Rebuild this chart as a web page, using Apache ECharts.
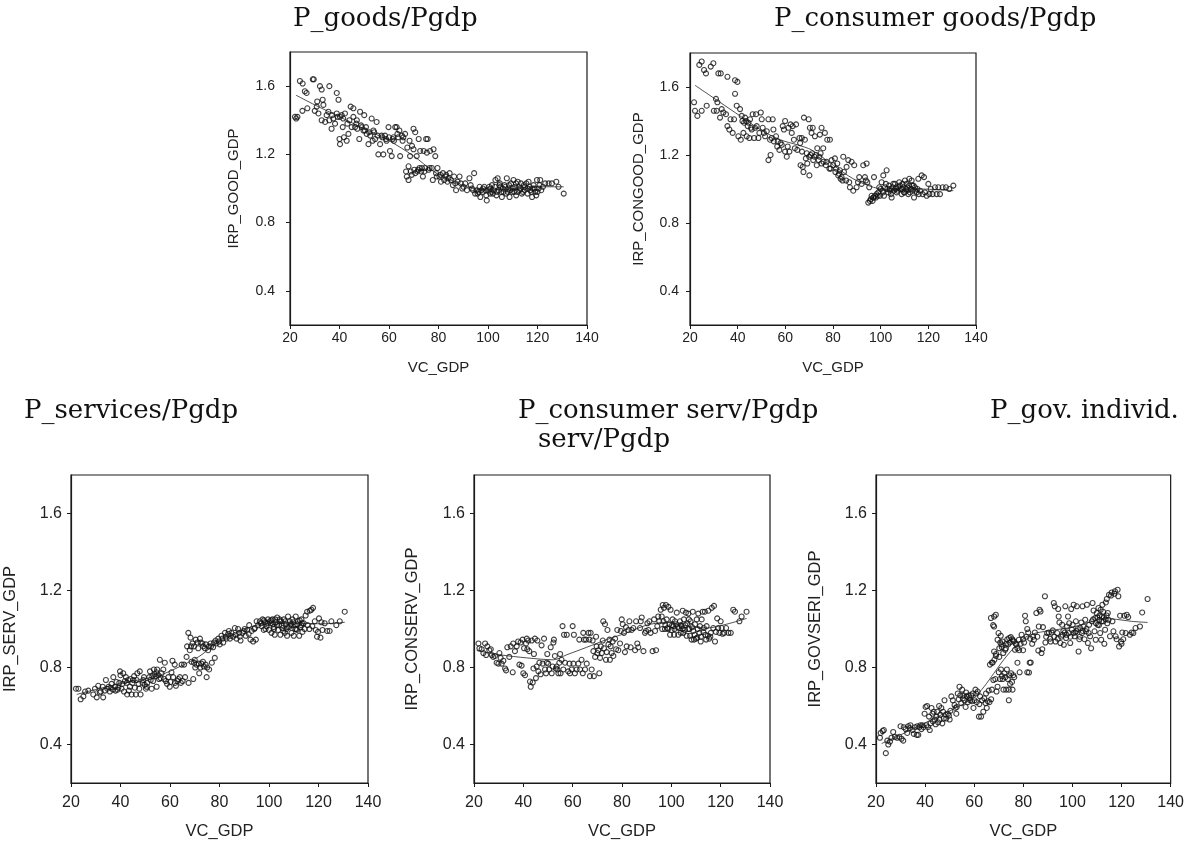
<!doctype html>
<html lang="en">
<head>
<meta charset="utf-8">
<title>Relative prices vs VC_GDP</title>
<script src="https://cdn.jsdelivr.net/npm/echarts@6/dist/echarts.min.js"></script>
<style>
  html, body { margin: 0; padding: 0; background: #fff; }
  #main { width: 1187px; height: 841px; }
</style>
</head>
<body>
<div id="main"></div>
<script>
// panel titles and axis names
var panelTitles = ['P_goods/Pgdp', 'P_consumer goods/Pgdp', 'P_services/Pgdp', 'P_consumer serv/Pgdp', 'P_gov. individ.'];
var yNames = ['IRP_GOOD_GDP', 'IRP_CONGOOD_GDP', 'IRP_SERV_GDP', 'IRP_CONSERV_GDP', 'IRP_GOVSERI_GDP'];
var xName = 'VC_GDP';
var yTicks = [0.4, 0.8, 1.2, 1.6];

// [VC_GDP, ratio]
var goodsPts = [
  [22,1.42],[22.5,1.41],[23,1.42],[24,1.63],[25.1,1.615],[26,1.57],[26.7,1.56],[25,1.455],[27,1.47],
  [29.2,1.64],[29.6,1.64],[30,1.455],[30.8,1.48],[31,1.51],[31.5,1.44],[32.1,1.6],[32.8,1.58],[33.2,1.52],
  [33.5,1.49],[32.8,1.40],[34.2,1.39],[34.8,1.43],[35.5,1.45],[35.9,1.6],[35.9,1.40],[36.8,1.35],[37.5,1.41],
  [38.2,1.38],[38.9,1.44],[38.9,1.56],[39.6,1.52],[40.2,1.42],[40,1.29],[40.2,1.26],[40.9,1.43],[41.3,1.36],
  [41.8,1.30],[42.2,1.44],[42.9,1.28],[43.6,1.32],[44,1.40],[44.5,1.48],[44.9,1.36],[45.6,1.47],[45.6,1.42],
  [46.3,1.36],[47,1.40],[47.2,1.35],[48,1.29],[48.3,1.45],[49,1.36],[49.7,1.34],[50,1.43],[50.7,1.36],
  [51,1.32],[51.7,1.26],[52.4,1.31],[53,1.41],[53.4,1.28],[53.7,1.34],[54.4,1.29],[55,1.39],[55.7,1.20],
  [56.4,1.26],[57,1.31],[57.7,1.20],[58.4,1.31],[59,1.28],[59.8,1.36],[60.4,1.22],[61.1,1.19],[61.5,1.29],
  [62,1.28],[62.5,1.36],[63.1,1.36],[63.7,1.30],[64.2,1.34],[64.5,1.19],[65.2,1.31],[65.8,1.30],[66.5,1.32],
  [66.9,1.10],[67.2,1.07],[67.9,1.13],[67.9,1.05],[68.3,1.28],[68.5,1.19],[68.8,1.10],[69.3,1.25],[69.9,1.35],
  [69.9,1.23],[70.6,1.33],[70.6,1.09],[71.2,1.19],[71.5,1.10],[72,1.29],[72.3,1.12],[72.6,1.22],[73.3,1.12],
  [73.7,1.07],[74,1.22],[74.6,1.12],[75,1.29],[75.3,1.21],[75.6,1.29],[76,1.11],[76.6,1.22],[77.3,1.12],
  [77.7,1.05],[78,1.23],[78.7,1.19],[79.3,1.07],[79.6,1.12],[80.4,1.07],[81,1.04],[81.8,1.09],[82.3,1.05],
  [83.1,1.08],[83.6,1.04],[84.5,1.09],[85,1.05],[85.8,1.02],[86.3,1.07],[87.1,0.99],[87.7,1.04],[88.5,1.07],
  [89,1.03],[90.1,1.01],[90.8,1.03],[91.5,0.99],[92.5,1.06],[93.5,1.00],[94.4,1.09],[94.8,0.97],[95.5,0.99],
  [96.6,1.01],[96.9,0.95],[97.9,0.98],[98.5,1.01],[99.3,0.96],[99.5,0.93],[100.2,0.99],[100.9,0.97],[101.6,1.02],
  [102.3,0.99],[103,1.05],[103.4,0.96],[103.9,1.06],[104.3,0.99],[105,1.01],[105.6,0.95],[106.3,0.98],[107,1.01],
  [107.6,1.06],[108.3,1.00],[108.7,0.95],[109.3,1.03],[109.7,0.98],[110.3,1.05],[111,1.01],[111.4,0.96],[112,1.04],
  [112.8,0.99],[113.3,1.03],[114.1,0.98],[115,1.01],[116,0.97],[116.4,1.04],[117.1,0.99],[117.8,0.95],[118.4,1.02],
  [119.1,0.98],[119.8,1.05],[120.4,1.00],[121.1,1.05],[122.2,1.01],[123.1,1.03],[124.5,1.03],[125.8,1.03],[127.6,1.04],
  [128.5,1.01],[130.6,0.97],[98,1.00],[101,1.00],[102,0.97],[104.8,1.03],[106,1.00],[108,0.98],[110,1.00],
  [111.8,0.98],[113,1.00],[114.5,1.02],[116,1.00],[118,1.00],[120,0.98],[121.5,0.99],[95.8,0.97],[97.3,0.99],
  [99,0.99],[100.5,1.01],[101.3,0.98],[102.8,1.01],[103.7,0.98],[104.6,1.02],[105.3,0.98],[106.7,1.02],[107.3,0.97],
  [108.5,1.02],[109,0.99],[110.6,0.98],[111.3,1.03],[112.4,1.01],[113.7,0.97],[114.8,0.99],[115.5,1.03],[116.8,1.01],
  [117.5,0.98],[118.8,1.00],[119.5,0.96],[120.8,1.02],[93,1.02],[94,0.99],[96.2,0.98],[89.6,1.00],[86.8,1.03],
  [84,1.06],[82.8,1.07],[80.8,1.08],[79,1.09],[76.4,1.12],[74.3,1.10],[73,1.10],[71.8,1.11],[70.2,1.11],[69.2,1.08],
  [46.8,1.38],[48.7,1.37],[50.3,1.34],[52,1.33],[54,1.33],[55.4,1.31],[57.3,1.30],[58.8,1.29],[60,1.30],[43.2,1.38],
  [41.5,1.41],[39.2,1.42],[37,1.43],[61.8,1.30],[63.4,1.32],[65.5,1.28],[67.4,1.24]
];
var goodsFit = [[22.4,1.547],[30,1.49],[40,1.42],[50,1.35],[60,1.28],[70,1.19],[78,1.10],[85,1.05],[91.5,1.01],[100.9,0.99],[110,1.00],[118.4,1.01],[130.6,1.01]];

var conGoodsPts = [
  [21.7,1.51],[22.1,1.46],[23.1,1.43],[23.9,1.73],[24.9,1.75],[24.9,1.46],[25.9,1.70],[26.7,1.68],[27,1.49],
  [28.7,1.72],[29.8,1.74],[30,1.46],[30.9,1.53],[31.2,1.46],[31.5,1.51],[31.9,1.68],[32.9,1.68],[32.6,1.42],
  [33.3,1.47],[34,1.45],[35.1,1.44],[35.7,1.66],[35.7,1.37],[36.5,1.35],[37,1.41],[37.9,1.33],[38.5,1.41],
  [38.9,1.64],[38.9,1.56],[39.6,1.49],[39.9,1.63],[40.3,1.31],[41,1.47],[41.3,1.29],[41.7,1.43],[42.4,1.33],
  [42.7,1.39],[43.1,1.42],[43.8,1.31],[44.2,1.37],[44.9,1.30],[45.2,1.41],[45.9,1.35],[46.3,1.44],[46.9,1.30],
  [47.7,1.44],[48,1.37],[48.7,1.30],[49.1,1.33],[49.7,1.45],[50.1,1.41],[50.5,1.36],[51.5,1.31],[52.2,1.34],
  [52.9,1.41],[52.9,1.17],[53.6,1.29],[53.8,1.20],[54.7,1.41],[55,1.35],[55.2,1.28],[56.1,1.31],[56.6,1.25],
  [57.5,1.23],[58.5,1.26],[58.9,1.37],[59.4,1.35],[59.9,1.40],[59.9,1.22],[60.6,1.19],[61.3,1.36],[61.7,1.22],
  [62.2,1.38],[62.7,1.33],[63.1,1.37],[63.6,1.29],[64.5,1.38],[65,1.23],[65.9,1.30],[66.2,1.27],[66.9,1.30],
  [66.4,1.14],[67.3,1.13],[67.6,1.10],[67.8,1.42],[68.2,1.29],[69,1.21],[69.2,1.15],[69.8,1.41],[70.1,1.08],
  [70.3,1.36],[70.6,1.20],[71,1.33],[71.5,1.36],[71.7,1.17],[72.4,1.31],[72.9,1.20],[73.2,1.14],[73.4,1.24],
  [74.3,1.19],[74.5,1.32],[74.8,1.21],[75.2,1.36],[75.2,1.15],[75.9,1.24],[76.6,1.33],[77.3,1.16],[77.6,1.29],
  [78.5,1.12],[78.7,1.29],[79.4,1.17],[80.1,1.14],[80.8,1.18],[81.3,1.12],[81.8,1.15],[82.2,1.08],[82.9,1.11],
  [83.6,1.07],[84.3,1.19],[84.6,1.10],[85.5,1.05],[85.7,1.13],[86.4,1.17],[87.1,1.01],[87.8,1.16],[88.5,0.99],
  [88.9,1.14],[89.9,1.01],[91,1.07],[92,1.03],[92.7,1.14],[93.4,1.07],[94.1,1.15],[94.4,1.04],[94.8,0.92],
  [95.2,1.01],[95.8,0.94],[96.2,0.96],[96.6,0.93],[97.2,1.07],[97.6,0.96],[98.3,0.97],[99,0.98],[99.4,1.01],
  [99.7,0.96],[100.4,1.04],[100.8,0.99],[101.1,1.08],[101.4,0.96],[101.8,1.01],[102.2,1.03],[102.5,1.11],[103.2,0.98],
  [103.9,1.00],[104.6,0.95],[105,1.01],[105.6,0.99],[106,1.03],[106.7,0.98],[107.4,1.01],[107.8,1.04],[108.4,1.00],
  [108.8,0.97],[109.2,1.03],[109.8,0.98],[110.2,1.05],[110.6,1.00],[111.2,1.01],[111.6,0.97],[112,1.06],[112.6,1.00],
  [113,1.05],[113.4,0.99],[114,0.95],[114.4,1.01],[115.1,0.98],[115.8,1.06],[116.5,0.99],[117.2,1.08],[117.6,0.97],
  [118.2,1.07],[118.6,0.98],[119.3,0.96],[120,1.03],[120.4,0.97],[121,1.00],[121.8,0.97],[122.8,1.01],[123.5,0.97],
  [124.2,1.01],[124.9,0.97],[126,1.01],[127.4,1.01],[128.8,1.00],[130.5,1.02],[97,0.95],[98.8,0.96],[104,0.99],
  [106.3,1.00],[109,1.00],[111,0.99],[113.8,1.02],[116,0.97],
  [102.8,1.00],[103.5,1.02],[104.3,0.97],[105.3,1.03],[106.5,1.01],[107,0.99],[108.1,1.02],[109.5,1.01],[110,0.98],
  [110.9,1.03],[111.9,1.02],[112.3,0.98],[113.2,1.02],[114.7,0.99],[115.4,1.00],[100,1.00],[101,0.98],[98,0.95],
  [96.9,0.95],[95.5,0.93],[93.8,1.05],[90.5,1.04],[86.8,1.04],[84,1.05],[83.2,1.06],[82.5,1.09],[81,1.10],[79,1.12],
  [77,1.14],[76,1.16],[74,1.17],[72.2,1.19],[71.2,1.21],[70,1.19],[68.6,1.18],[67,1.22],[64,1.24],[61,1.25],
  [58,1.27],[56.8,1.28],[54.3,1.30],[51,1.33],[47.3,1.36],[45.6,1.36],[44.5,1.39],[43.5,1.40],[42,1.40]
];
var conGoodsFit = [[22.1,1.61],[32.6,1.51],[41,1.43],[49.4,1.35],[57.8,1.29],[65,1.26],[71,1.23],[80.1,1.14],[88.5,1.06],[97,1.01],[105.3,0.99],[116.5,1.00],[130.5,0.99]];

var servPts = [
  [22,0.69],[23,0.69],[23.9,0.635],[25,0.65],[25.7,0.675],[27,0.68],[29,0.66],[29.7,0.69],[30.4,0.645],
  [31,0.705],[32,0.675],[32.8,0.70],[33,0.645],[34.1,0.735],[34.7,0.69],[35.7,0.675],[36.4,0.715],[37.1,0.75],
  [37.8,0.70],[38.4,0.725],[39.1,0.695],[39.8,0.78],[40,0.76],[40.4,0.69],[41.1,0.77],[41.4,0.675],[42.2,0.75],
  [42.7,0.66],[43.1,0.735],[43.8,0.70],[44.5,0.66],[45.2,0.735],[45.8,0.695],[46.2,0.66],[46.8,0.77],[47.6,0.69],
  [47.8,0.78],[48.1,0.66],[48.9,0.72],[49.5,0.75],[50.3,0.69],[50.8,0.72],[51.6,0.75],[51.9,0.78],[52.6,0.69],
  [53.2,0.73],[53.5,0.79],[54.3,0.755],[54.6,0.70],[54.8,0.79],[55.6,0.74],[55.9,0.84],[56.6,0.77],[57.3,0.79],
  [57.9,0.825],[58.3,0.73],[59.3,0.75],[59.9,0.70],[60.6,0.775],[61,0.835],[61.3,0.75],[61.9,0.815],[62.4,0.705],
  [63.3,0.74],[64,0.75],[64.7,0.815],[65.1,0.73],[65.7,0.815],[66.1,0.75],[66.7,0.855],[66.9,0.91],[67.4,0.98],
  [67.5,0.72],[68,0.89],[68.3,0.955],[68.7,0.83],[69.1,0.925],[69.4,0.74],[70,0.84],[70.4,0.945],[70.7,0.815],
  [71.4,0.90],[71.8,0.77],[72.1,0.95],[72.7,0.82],[73.1,0.925],[73.7,0.805],[74.1,0.90],[74.8,0.75],[75,0.80],
  [75.4,0.89],[75.8,0.79],[76.4,0.925],[76.9,0.825],[77.4,0.905],[78.1,0.85],[78.8,0.925],[79.5,0.95],[80.1,0.92],
  [80.8,0.965],[81.5,0.93],[82.2,0.98],[82.8,0.95],[83.5,0.975],[84.2,0.95],[84.8,0.98],[85.5,0.96],[86.2,1.005],
  [86.9,0.95],[87.5,1.00],[87.9,0.98],[88.5,0.94],[89.3,0.98],[90.2,1.00],[91.2,0.995],[92,1.02],[92.5,0.945],
  [93.6,0.935],[94.3,1.005],[94.7,0.945],[95,1.04],[95.6,1.02],[96.3,1.04],[97,1.015],[97.4,1.05],[97.9,0.995],
  [98.3,1.035],[99,1.015],[99.6,1.05],[100,0.995],[100.6,1.03],[101,0.98],[101.4,1.05],[101.9,1.01],[102.3,0.97],
  [102.7,1.035],[103.3,1.06],[103.7,0.995],[104.1,1.02],[104.6,0.97],[105,1.04],[105.4,1.005],[106,1.05],[106.4,0.98],
  [106.8,1.025],[107.3,0.965],[107.7,1.065],[108.1,1.01],[108.4,1.04],[109.1,0.98],[109.5,1.05],[110,0.965],[110.4,1.02],
  [110.8,1.065],[111.3,0.995],[111.7,1.04],[112.2,0.965],[112.7,1.01],[113.1,1.05],[113.5,0.985],[114,1.03],[114.8,1.07],
  [115.4,1.09],[116.5,1.095],[117.1,1.10],[117.8,1.11],[117.5,1.015],[118.5,1.04],[118.9,0.995],[119.4,0.96],[119.8,0.985],
  [120.2,1.055],[120.8,0.955],[121.2,1.035],[121.6,0.995],[122.5,1.03],[123.5,0.99],[124.5,0.99],[125.2,1.04],[127.2,1.02],
  [128.6,1.04],[130.6,1.09],[98.6,1.00],[100.3,1.04],[102,1.00],[104.5,1.04],[107,1.00],[109,1.02],[111,1.00],[113,1.02],
  [96.8,1.03],[98,1.045],[99.3,1.03],[100.9,1.045],[101.6,1.025],[102.5,1.05],[103.1,1.02],[104.3,1.05],[105.2,1.02],
  [105.8,0.99],[106.6,1.04],[107.5,1.01],[108.7,1.025],[109.8,1.035],[110.6,1.00],[111.5,1.025],[112.4,1.045],[113.3,1.03],
  [114.4,1.00],[115.6,1.02],[116.3,1.00],[94,1.00],[93,0.99],[91.8,0.975],[90.6,0.965],[89.8,0.99],[88.2,0.96],
  [86.5,0.97],[84.5,0.965],[83.8,0.99],[82.5,0.96],[81.2,0.95],[79.8,0.935],[78.4,0.94],[77.8,0.93],[76.6,0.91],
  [75.7,0.91],[74.5,0.92],[73.4,0.91],[72.4,0.93],[71.1,0.93],[69.7,0.91],[68.5,0.91],[74.4,0.815],[73.3,0.83],
  [72.3,0.80],[71.6,0.82],[70.2,0.80],[69.7,0.825],[64.4,0.72],[63,0.73],[62,0.72],[60.2,0.725],[58.8,0.715],
  [57.6,0.74],[56.2,0.745],[55.3,0.76],[54.5,0.775],[53.8,0.765],[52.9,0.755],[52.2,0.735],[50.6,0.70],[49.8,0.71],
  [49.2,0.735],[47.3,0.715],[46.5,0.735],[45.5,0.755],[44.8,0.72],[44,0.74],[43.4,0.68],[42.5,0.72],[41.8,0.73],
  [40.8,0.715],[39.5,0.72],[38.8,0.685],[38,0.68],[36.9,0.685],[36,0.695],[35.2,0.70],[33.7,0.68],[31.6,0.67]
];
var servFit = [[22.3,0.66],[34.4,0.70],[47.2,0.735],[55.9,0.76],[64,0.805],[72.1,0.86],[80.1,0.94],[85.5,0.97],[93.6,1.015],[103,1.035],[112.4,1.03],[121.8,1.027],[130.6,1.035]];

var conServPts = [
  [21.8,0.925],[22.2,0.90],[23.1,0.895],[23.8,0.875],[24.5,0.925],[24.9,0.865],[25.4,0.91],[26.2,0.89],[26.8,0.895],
  [27.2,0.865],[27.8,0.855],[28.5,0.86],[29.2,0.825],[29.9,0.82],[30.3,0.875],[30.8,0.85],[31.2,0.82],[31.9,0.835],
  [32.6,0.795],[33,0.785],[33.5,0.905],[34.3,0.855],[34.9,0.91],[35.7,0.775],[35.9,0.925],[36.6,0.885],[37.3,0.91],
  [37.9,0.935],[38.4,0.815],[38.9,0.93],[39.3,0.81],[39.7,0.945],[40,0.77],[40.3,0.90],[40.7,0.76],[41.1,0.925],
  [41.4,0.95],[41.6,0.895],[42,0.94],[42.4,0.885],[42.7,0.727],[43,0.70],[43.4,0.94],[43.8,0.722],[44.1,0.795],
  [44.3,0.87],[44.7,0.95],[45.1,0.745],[45.4,0.805],[45.7,0.94],[46.1,0.78],[46.5,0.825],[47,0.765],[47.4,0.915],
  [47.8,0.82],[48.4,0.95],[48.8,0.79],[49.2,0.77],[49.5,0.825],[49.7,0.87],[50.1,0.82],[50.5,0.79],[51.1,0.905],
  [51.5,0.77],[51.9,0.805],[52.2,0.93],[52.4,0.945],[52.8,0.86],[53.2,0.795],[53.5,0.805],[53.8,0.79],[54.2,0.77],
  [54.6,0.825],[54.9,0.87],[55.1,0.77],[55.5,0.84],[55.9,1.015],[56.2,0.79],[56.5,0.97],[56.9,0.825],[57.6,0.97],
  [58.2,0.78],[58.7,0.82],[58.9,0.77],[59.6,0.79],[60,1.015],[60.3,0.82],[60.5,0.97],[60.9,0.77],[61.6,0.79],
  [62.3,0.82],[62.7,0.945],[63,0.79],[63.6,0.84],[64.1,0.77],[64.3,0.98],[64.6,0.945],[65,0.79],[65.4,0.945],
  [65.7,0.82],[66.4,0.98],[66.8,0.945],[67,0.755],[67.3,0.98],[67.7,0.79],[68.1,0.94],[68.4,0.885],[68.6,0.755],
  [69.1,0.855],[69.5,0.96],[69.7,0.91],[70,0.875],[70.4,0.89],[70.8,0.77],[71.1,0.85],[71.4,0.91],[71.8,0.875],
  [72.2,0.94],[72.4,1.04],[72.7,0.90],[73.1,1.025],[73.5,0.84],[73.8,0.88],[74.1,0.995],[74.5,0.92],[74.9,0.945],
  [75.1,0.84],[75.4,0.91],[75.8,0.875],[76.2,0.935],[76.5,0.86],[77.2,0.95],[77.6,0.895],[78.1,0.995],[78.5,0.89],
  [79.2,0.925],[79.5,0.99],[79.9,1.05],[80.3,1.025],[80.8,0.98],[81.2,0.88],[81.6,1.01],[81.9,0.91],[82.6,0.995],
  [83,1.04],[83.5,0.905],[83.9,0.995],[84.6,1.005],[85.3,0.89],[85.7,1.04],[86.2,0.925],[86.6,0.905],[87.3,1.005],
  [87.6,1.04],[88,1.06],[88.7,0.885],[89.3,0.98],[89.7,0.99],[90.3,1.03],[90.7,0.995],[91.1,1.04],[91.6,0.98],
  [92.4,0.885],[93,1.05],[93.4,0.99],[93.8,0.89],[94.3,1.015],[94.7,1.065],[95.1,1.04],[95.7,1.10],[96.1,1.065],
  [96.5,1.125],[96.8,1.04],[97,1.11],[97.4,1.00],[97.8,1.125],[98.1,1.05],[98.4,1.005],[98.8,1.115],[99.2,1.025],
  [99.5,0.97],[99.7,1.10],[100.1,0.995],[100.5,1.05],[100.8,1.015],[101.1,0.97],[101.5,1.04],[101.9,1.025],[102.2,1.085],
  [102.8,0.97],[103.2,1.005],[103.5,1.04],[103.8,0.98],[104.2,1.015],[104.6,1.095],[104.9,0.98],[105.1,1.05],[105.5,0.995],
  [105.9,1.085],[106.2,0.965],[106.5,1.03],[106.9,1.08],[107.3,1.00],[107.6,0.965],[107.8,1.04],[108.2,0.945],[108.7,1.09],
  [108.9,0.99],[109.2,0.945],[109.6,1.025],[110,0.95],[110.3,1.05],[110.5,0.955],[110.9,1.08],[111.4,0.98],[111.6,1.015],
  [111.9,0.935],[112.3,1.05],[112.7,1.09],[113,0.985],[113.2,1.005],[113.6,1.09],[114.1,0.945],[114.3,1.015],[115,1.095],
  [115.4,0.95],[116,0.98],[116.4,1.11],[117,1.005],[117.3,1.12],[117.7,0.935],[118.1,0.985],[118.6,1.055],[119,1.005],
  [119.5,0.98],[120,1.04],[120.4,1.005],[120.8,0.975],[121.4,0.98],[122.2,1.005],[123.1,0.98],[124.1,0.98],[125.1,1.10],
  [125.8,1.09],[127.6,1.04],[128.5,1.065],[130.5,1.09],
  [100.3,1.02],[101.3,1.00],[102.5,1.01],[103.9,1.02],[104.5,1.00],[105.7,1.02],[106.8,1.00],[107.1,1.05],[108.4,1.01],
  [109.4,0.97],[110.7,1.00],[112,0.96],[113.8,0.97],[114.8,0.965],[115.8,0.96],[98.7,1.00],[97.6,1.02],[96.3,1.00]
];
var conServFit = [[21.1,0.888],[30.5,0.866],[41.4,0.85],[52.2,0.84],[57.6,0.866],[65.7,0.905],[73.8,0.945],[81.9,0.98],[90,1.02],[98.1,1.035],[106.2,1.015],[114.3,1.005],[122.4,1.025],[130.5,1.055]];

var govPts = [
  [21.9,0.46],[21.6,0.435],[22.7,0.47],[23.2,0.475],[24,0.355],[24.6,0.42],[25,0.40],[25.7,0.415],[26.3,0.435],
  [27,0.465],[27.7,0.44],[28.6,0.435],[29.5,0.44],[30,0.495],[30.4,0.43],[31.1,0.42],[31.3,0.49],[32.1,0.48],
  [32.7,0.46],[33.1,0.495],[33.8,0.485],[34,0.50],[34.9,0.475],[35.4,0.455],[35.9,0.49],[36.6,0.45],[36.8,0.495],
  [37.2,0.45],[37.6,0.49],[38.1,0.50],[38.5,0.48],[38.9,0.50],[39.4,0.49],[39.8,0.56],[40.2,0.595],[40.5,0.50],
  [40.8,0.60],[41.2,0.49],[41.6,0.545],[41.9,0.475],[42.2,0.51],[42.6,0.59],[43,0.56],[43.2,0.52],[43.5,0.57],
  [43.9,0.53],[44.3,0.505],[44.6,0.545],[44.9,0.57],[45.3,0.515],[45.7,0.60],[45.9,0.53],[46.2,0.555],[46.6,0.59],
  [47,0.51],[47.3,0.57],[47.6,0.535],[47.9,0.63],[48.4,0.555],[48.6,0.535],[49.3,0.56],[49.7,0.55],[50,0.53],
  [50.3,0.575],[50.7,0.65],[51.3,0.63],[52,0.605],[52.4,0.59],[52.7,0.56],[52.9,0.595],[53.3,0.665],[53.7,0.635],
  [54,0.70],[54.3,0.655],[54.7,0.615],[55.1,0.685],[55.4,0.64],[55.6,0.655],[56,0.63],[56.5,0.595],[56.7,0.67],
  [57,0.65],[57.4,0.62],[57.8,0.655],[58.1,0.64],[58.4,0.63],[58.7,0.655],[59.1,0.625],[59.4,0.665],[59.7,0.59],
  [60.1,0.63],[60.5,0.685],[60.8,0.665],[61,0.62],[61.4,0.675],[61.9,0.545],[62.1,0.61],[62.4,0.65],[62.8,0.545],
  [63.2,0.63],[63.7,0.57],[64.1,0.64],[64.6,0.615],[64.8,0.665],[65.1,0.59],[65.5,0.625],[65.9,0.68],[66.2,0.62],
  [66.4,0.815],[66.9,0.635],[67.2,0.685],[67.5,0.825],[67.8,0.735],[68.2,0.84],[68.6,0.74],[68.9,0.87],[69.1,0.675],
  [69.5,0.70],[70,0.775],[70.2,0.855],[70.5,0.74],[70.9,0.79],[71.3,0.755],[71.6,0.74],[71.9,0.685],[72.3,0.77],
  [72.7,0.75],[73,0.685],[73.3,0.79],[73.7,0.74],[74.1,0.685],[74.3,0.76],[74.6,0.715],[75,0.77],[75.4,0.725],
  [75.6,0.685],[75.9,0.76],[76.3,0.75],[74.1,0.63],[77.6,0.825],[78.5,0.775],[81.6,0.775],[82.6,0.825],[79.9,0.89],
  [78.3,0.89],[66.8,1.057],[68.1,1.065],[68.8,1.074],[67.7,1.02],[68.1,1.013],[69.9,0.979],[70.8,0.965],[69.5,0.944],
  [71.5,0.935],[70.2,0.90],[68.1,0.883],[68.8,0.86],[67.2,0.826],[71.2,0.906],[71.8,0.875],[72.6,0.892],[73.1,0.923],
  [73.5,0.947],[74.2,0.953],[74.9,0.958],[75.5,0.947],[76.2,0.935],[76.9,0.923],[77.6,0.90],[78.2,0.944],[76.6,0.892],
  [78.9,0.923],[79.3,0.97],[79.9,0.947],[80.3,0.93],[80.7,1.069],[81,1.04],[81.6,1.0],[82,0.982],[82.3,0.774],
  [83,0.826],[83.6,0.923],[84.3,0.944],[84.7,0.982],[85.3,1.083],[86.1,0.888],[86.3,1.013],[86.6,1.1],[87,1.091],
  [87.4,0.875],[87.7,0.895],[88,1.01],[88.8,1.17],[89,0.93],[89.7,0.979],[90.4,0.982],[91.1,0.935],[91.5,0.982],
  [92,0.993],[92.4,1.135],[92.8,1.118],[93.1,0.935],[93.8,0.979],[94.2,1.104],[94.4,1.065],[94.7,1.034],[95.1,0.927],
  [95.8,1.022],[96,0.97],[96.5,0.918],[96.9,0.982],[97.1,1.118],[97.4,0.953],[97.8,1.013],[98.2,1.065],[98.5,0.979],
  [98.7,1.03],[99.1,0.927],[99.5,1.104],[99.8,0.996],[100.1,1.022],[100.5,1.126],[100.9,0.962],[101.2,0.982],[101.4,1.04],
  [101.8,1.118],[102.2,1.0],[102.5,0.883],[102.8,0.947],[103.2,1.005],[103.6,1.034],[103.9,0.979],[104.1,1.118],[104.5,1.013],
  [104.9,0.947],[105.2,1.048],[105.5,0.988],[105.9,1.126],[106.3,0.927],[106.6,0.979],[106.8,1.022],[107.2,0.962],[107.6,0.90],
  [107.9,1.04],[108.2,1.135],[108.6,1.096],[109,0.988],[109.3,1.057],[109.5,0.944],[109.9,1.083],[110.3,1.022],[110.6,1.109],
  [110.9,1.048],[111.3,0.979],[111.7,0.944],[112,1.065],[112.2,1.126],[112.6,1.04],[113,0.923],[113.3,0.996],[113.6,1.138],
  [114,1.156],[114.4,1.083],[114.7,1.048],[114.9,1.178],[115.3,0.962],[115.7,1.174],[116,1.19],[116.3,1.04],[116.7,0.988],
  [117.1,1.183],[117.3,1.196],[117.6,0.962],[118,0.947],[118.4,1.204],[118.7,1.17],[119,0.909],[119.4,1.069],[119.8,0.935],
  [120,0.923],[120.3,0.982],[120.7,0.947],[121.1,1.069],[121.7,0.979],[122.1,1.074],[122.7,1.062],[123.4,0.97],[124.1,0.982],
  [124.8,0.979],[125.7,1.005],[127.5,1.013],[128.4,1.086],[130.6,1.156],
  [108.4,1.05],[109.6,1.03],[110.2,1.06],[111,1.07],[111.9,1.04],[112.8,1.06],[113.5,1.05],[114.2,1.03],[113.9,1.07],
  [112.5,1.09],[111.5,1.10],[110.8,1.02],[105.7,1.00],[104.2,0.99],[103,0.96],[101.6,0.99],[100.4,0.98],[99.2,0.96],
  [97.6,0.97],[96.3,0.99],[95.4,0.96],[94,0.95],[92.6,0.96],[90.9,0.95],[89.3,0.96],[85.7,0.96],[84,0.96],[82.8,0.95],
  [81.3,0.96],[77.2,0.92],[75.8,0.94],[74.5,0.93],[73.8,0.92],[72.9,0.90],[71.1,0.92],[70.6,0.93]
];
var govFit = [[22.3,0.405],[30,0.45],[38,0.50],[46,0.55],[54,0.60],[60,0.645],[64,0.70],[68,0.77],[72,0.84],[76,0.90],[80,0.95],[84,0.975],[90,0.99],[100,1.01],[108,1.04],[112,1.055],[118,1.05],[124,1.04],[130.6,1.034]];

var panelPts = [goodsPts, conGoodsPts, servPts, conServPts, govPts];
var panelFit = [goodsFit, conGoodsFit, servFit, conServFit, govFit];

// layout of the five boxes (pixels)
var boxes = [
  {left: 290, top: 52, width: 297, height: 273, big: false, yGap: 49, yMargin: 15},
  {left: 690, top: 53, width: 286, height: 272, big: false, yGap: 44, yMargin: 11},
  {left: 71, top: 475, width: 297, height: 308, big: true, yGap: 52, yMargin: 9},
  {left: 474, top: 475, width: 296, height: 308, big: true, yGap: 53, yMargin: 9},
  {left: 876, top: 475, width: 296, height: 308, big: true, yGap: 52, yMargin: 9}
];

var axisColor = '#1a1a1a';
var sansFont = '"Liberation Sans", Arial, sans-serif';
var serifFont = '"DejaVu Serif", Georgia, serif';

var grids = [], xAxes = [], yAxes = [], series = [];
boxes.forEach(function (b, i) {
  var tickSize = b.big ? 16 : 14;
  var nameSize = b.big ? 16.5 : 15;
  grids.push({
    left: b.left, top: b.top, width: b.width, height: b.height,
    show: true, borderColor: axisColor, borderWidth: 1.2, backgroundColor: 'transparent'
  });
  xAxes.push({
    gridIndex: i, type: 'value', min: 20, max: 140, interval: 20,
    name: xName, nameLocation: 'middle', nameGap: b.big ? 40 : 35,
    nameTextStyle: {fontFamily: sansFont, fontSize: nameSize, color: '#222'},
    axisLine: {show: true, onZero: false, lineStyle: {color: axisColor, width: 1.2}},
    axisTick: {show: true, inside: false, length: 4, lineStyle: {color: axisColor}},
    axisLabel: {fontFamily: sansFont, fontSize: tickSize, color: '#222', margin: b.big ? 12 : 6},
    splitLine: {show: false}
  });
  yAxes.push({
    gridIndex: i, type: 'value', min: 0.2, max: 1.8,
    name: yNames[i], nameLocation: 'middle', nameGap: b.yGap, nameRotate: 90,
    nameTextStyle: {fontFamily: sansFont, fontSize: nameSize, color: '#222'},
    axisLine: {show: true, onZero: false, lineStyle: {color: axisColor, width: 1.2}},
    axisTick: {show: true, inside: false, length: 4, customValues: yTicks, lineStyle: {color: axisColor}},
    axisLabel: {
      fontFamily: sansFont, fontSize: tickSize, color: '#222', margin: b.yMargin,
      customValues: yTicks, formatter: function (v) { return v.toFixed(1); }
    },
    splitLine: {show: false}
  });
  series.push({
    type: 'scatter', xAxisIndex: i, yAxisIndex: i, data: panelPts[i],
    symbol: 'circle', symbolSize: 5,
    itemStyle: {color: 'rgba(255,255,255,0)', borderColor: '#111', borderWidth: 1.1},
    emphasis: {disabled: true}, z: 3
  });
  series.push({
    type: 'line', xAxisIndex: i, yAxisIndex: i, data: panelFit[i],
    smooth: 0.3, showSymbol: false, lineStyle: {color: '#222', width: 0.8},
    emphasis: {disabled: true}, z: 4
  });
});

var titleStyle = {fontFamily: serifFont, fontSize: 26, fontWeight: 'normal', color: '#111'};
var titles = [
  {text: panelTitles[0], left: 293, top: 6},
  {text: panelTitles[1], left: 774, top: 6},
  {text: panelTitles[2], left: 24, top: 398},
  {text: panelTitles[3], left: 518, top: 398},
  {text: 'serv/Pgdp', left: 538, top: 427},
  {text: panelTitles[4], left: 990, top: 398}
].map(function (t) { t.padding = 0; t.textStyle = titleStyle; return t; });

var chart = echarts.init(document.getElementById('main'), null, {renderer: 'canvas'});
chart.setOption({
  backgroundColor: '#fff',
  animation: false,
  title: titles,
  grid: grids,
  xAxis: xAxes,
  yAxis: yAxes,
  series: series
});
</script>
</body>
</html>
